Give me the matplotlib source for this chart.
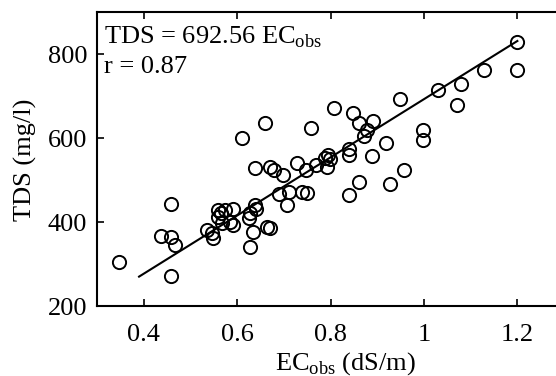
import numpy as np
import matplotlib
matplotlib.use("Agg")
import matplotlib.pyplot as plt

plt.rcParams['font.family'] = ['Liberation Serif', 'DejaVu Serif']
plt.rcParams['mathtext.fontset'] = 'custom'
plt.rcParams['mathtext.rm'] = 'Liberation Serif'

# ----------- Data -----------
ec_obs = [0.348, 0.458, 0.438, 0.458, 0.468, 0.458,
          0.535, 0.546, 0.549,
          0.560, 0.566, 0.574, 0.592, 0.560, 0.567, 0.585, 0.592,
          0.610, 0.660, 0.638, 0.670, 0.679, 0.699, 0.729, 0.690, 0.710, 0.707,
          0.738, 0.750, 0.638, 0.640, 0.628, 0.626, 0.635, 0.663, 0.670, 0.628,
          0.808, 0.849, 0.949, 0.758, 0.860, 0.890, 0.879, 0.872, 0.919, 0.840,
          0.840, 0.888, 0.794, 0.799, 0.788, 0.769, 0.748, 0.792, 0.957, 0.860,
          0.927, 0.840,
          1.199, 1.199, 1.129, 1.079, 1.030, 1.070, 0.999, 0.999]
tds = [305, 442, 367, 365, 345, 272,
       381, 375, 363,
       428, 422, 428, 432, 413, 397, 401, 393,
       601, 635, 528, 532, 524, 512, 540, 466, 472, 440,
       472, 470, 440, 432, 421, 409, 377, 389, 385, 341,
       672, 659, 694, 625, 635, 640, 619, 605, 589, 573,
       560, 558, 560, 549, 552, 536, 525, 532, 525, 496,
       490, 464,
       829, 763, 762, 729, 714, 679, 619, 595]

slope = 692.56
r_value = 0.87
fit_x = [0.39, 1.2]

x_ticks = [0.4, 0.6, 0.8, 1.0, 1.2]
x_tick_labels = ["0.4", "0.6", "0.8", "1", "1.2"]
y_ticks = [200, 400, 600, 800]

FS = 19

# ----------- Plot -----------
fig = plt.figure(figsize=(5.56, 3.76), dpi=100)
ax = fig.add_axes([0.1745, 0.186, 0.84, 0.782])

ax.plot(ec_obs, tds, 'o', mfc='none', mec='black', ms=9.5, mew=1.4)
fx = np.array(fit_x)
ax.plot(fx, slope * fx, color='black', lw=1.5)

ax.set_xlim(0.3, 1.3)
ax.set_ylim(200, 900)
ax.set_xticks(x_ticks)
ax.set_xticklabels(x_tick_labels)
ax.set_yticks(y_ticks)
ax.tick_params(direction='in', length=5, width=1.2, labelsize=FS,
               top=True, right=True)
ax.tick_params(axis='x', pad=13)
ax.tick_params(axis='y', pad=7)
for s in ax.spines.values():
    s.set_linewidth(1.5)

ax.set_xlabel(r'EC$_{\rm obs}$ (dS/m)', fontsize=FS)
ax.set_ylabel('TDS (mg/l)', fontsize=FS)
ax.xaxis.set_label_coords(0.533, -0.15)
ax.yaxis.set_label_coords(-0.128, 0.497)

ax.text(0.0156, 0.894, 'TDS = %.2f EC$_{\\rm obs}$' % slope, transform=ax.transAxes,
        fontsize=FS, va='baseline', ha='left')
ax.text(0.0156, 0.791, 'r = %.2f' % r_value, transform=ax.transAxes,
        fontsize=FS, va='baseline', ha='left')

fig.savefig("out.png", dpi=100)
